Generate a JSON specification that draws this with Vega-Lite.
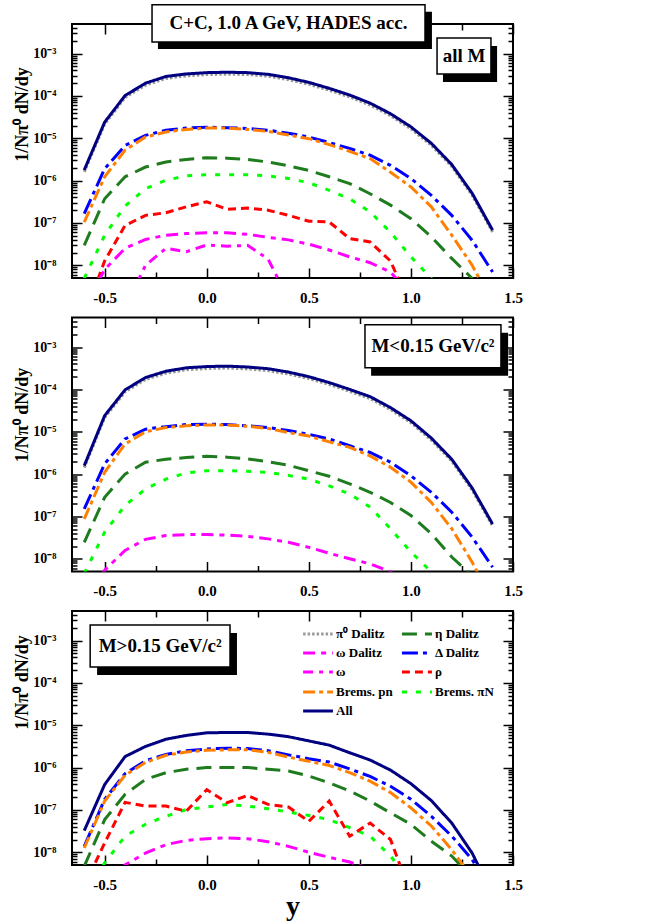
{
"$schema":"https://vega.github.io/schema/vega-lite/v6.json",
"background":"white",
"padding":{"left":12,"top":3,"right":10,"bottom":3},
"spacing":39.5,
"bounds":"flush",
"config":{"font":"Liberation Serif","view":{"stroke":"black","strokeWidth":2},
"axis":{"domain":false,"grid":false,"tickColor":"black","tickWidth":1.5,"labelColor":"black","labelFont":"Liberation Serif","labelFontWeight":"bold","titleFont":"Liberation Serif","titleColor":"black","titleFontWeight":"bold","labelFlush":false,"labelOverlap":false,"labelBound":false}},
"datasets":{
"p1":[
{"s":"π⁰ Dalitz","x":-0.6,"v":1.6e-6},{"s":"π⁰ Dalitz","x":-0.5,"v":2.16e-5},{"s":"π⁰ Dalitz","x":-0.4,"v":9.2e-5},{"s":"π⁰ Dalitz","x":-0.3,"v":1.8e-4},{"s":"π⁰ Dalitz","x":-0.2,"v":2.59e-4},{"s":"π⁰ Dalitz","x":-0.1,"v":2.98e-4},{"s":"π⁰ Dalitz","x":0,"v":3.2e-4},{"s":"π⁰ Dalitz","x":0.1,"v":3.27e-4},{"s":"π⁰ Dalitz","x":0.2,"v":3.2e-4},{"s":"π⁰ Dalitz","x":0.3,"v":2.92e-4},{"s":"π⁰ Dalitz","x":0.4,"v":2.42e-4},{"s":"π⁰ Dalitz","x":0.5,"v":1.88e-4},{"s":"π⁰ Dalitz","x":0.6,"v":1.36e-4},{"s":"π⁰ Dalitz","x":0.7,"v":9.45e-5},{"s":"π⁰ Dalitz","x":0.8,"v":6.08e-5},{"s":"π⁰ Dalitz","x":0.9,"v":3.42e-5},{"s":"π⁰ Dalitz","x":1,"v":1.67e-5},{"s":"π⁰ Dalitz","x":1.1,"v":6.83e-6},{"s":"π⁰ Dalitz","x":1.2,"v":2.16e-6},{"s":"π⁰ Dalitz","x":1.3,"v":4.51e-7},{"s":"π⁰ Dalitz","x":1.4,"v":6.08e-8},
{"s":"η Dalitz","x":-0.6,"v":2.95e-8},{"s":"η Dalitz","x":-0.5,"v":3.72e-7},{"s":"η Dalitz","x":-0.4,"v":1.23e-6},{"s":"η Dalitz","x":-0.3,"v":2.09e-6},{"s":"η Dalitz","x":-0.2,"v":2.75e-6},{"s":"η Dalitz","x":-0.1,"v":3.16e-6},{"s":"η Dalitz","x":0,"v":3.47e-6},{"s":"η Dalitz","x":0.1,"v":3.39e-6},{"s":"η Dalitz","x":0.2,"v":3.16e-6},{"s":"η Dalitz","x":0.3,"v":2.75e-6},{"s":"η Dalitz","x":0.4,"v":2.24e-6},{"s":"η Dalitz","x":0.5,"v":1.74e-6},{"s":"η Dalitz","x":0.6,"v":1.23e-6},{"s":"η Dalitz","x":0.7,"v":8.51e-7},{"s":"η Dalitz","x":0.8,"v":4.9e-7},{"s":"η Dalitz","x":0.9,"v":2.63e-7},{"s":"η Dalitz","x":1,"v":1.26e-7},{"s":"η Dalitz","x":1.1,"v":4.68e-8},{"s":"η Dalitz","x":1.2,"v":1.45e-8},{"s":"η Dalitz","x":1.3,"v":4.9e-9},{"s":"η Dalitz","x":1.4,"v":1e-9},
{"s":"Brems. πN","x":-0.6,"v":4.9e-9},{"s":"Brems. πN","x":-0.5,"v":5.13e-8},{"s":"Brems. πN","x":-0.4,"v":2.51e-7},{"s":"Brems. πN","x":-0.3,"v":6.46e-7},{"s":"Brems. πN","x":-0.2,"v":1.02e-6},{"s":"Brems. πN","x":-0.1,"v":1.29e-6},{"s":"Brems. πN","x":0,"v":1.38e-6},{"s":"Brems. πN","x":0.1,"v":1.38e-6},{"s":"Brems. πN","x":0.2,"v":1.38e-6},{"s":"Brems. πN","x":0.3,"v":1.29e-6},{"s":"Brems. πN","x":0.4,"v":1.12e-6},{"s":"Brems. πN","x":0.5,"v":8.91e-7},{"s":"Brems. πN","x":0.6,"v":5.89e-7},{"s":"Brems. πN","x":0.7,"v":3.72e-7},{"s":"Brems. πN","x":0.8,"v":1.82e-7},{"s":"Brems. πN","x":0.9,"v":6.03e-8},{"s":"Brems. πN","x":1,"v":1.58e-8},{"s":"Brems. πN","x":1.1,"v":4.9e-9},{"s":"Brems. πN","x":1.2,"v":1e-9},
{"s":"ρ","x":-0.6,"v":6.31e-10},{"s":"ρ","x":-0.5,"v":1.26e-8},{"s":"ρ","x":-0.4,"v":8.71e-8},{"s":"ρ","x":-0.3,"v":1.51e-7},{"s":"ρ","x":-0.2,"v":1.74e-7},{"s":"ρ","x":-0.1,"v":2.4e-7},{"s":"ρ","x":0,"v":3.16e-7},{"s":"ρ","x":0.1,"v":2.09e-7},{"s":"ρ","x":0.2,"v":2.24e-7},{"s":"ρ","x":0.3,"v":2e-7},{"s":"ρ","x":0.4,"v":1.51e-7},{"s":"ρ","x":0.5,"v":1.1e-7},{"s":"ρ","x":0.6,"v":1.05e-7},{"s":"ρ","x":0.7,"v":4.27e-8},{"s":"ρ","x":0.8,"v":3.55e-8},{"s":"ρ","x":0.9,"v":1.26e-8},{"s":"ρ","x":1,"v":1e-9},
{"s":"ω","x":-0.4,"v":1e-9},{"s":"ω","x":-0.3,"v":1e-8},{"s":"ω","x":-0.2,"v":2.51e-8},{"s":"ω","x":-0.1,"v":2.09e-8},{"s":"ω","x":0,"v":3.02e-8},{"s":"ω","x":0.1,"v":2.82e-8},{"s":"ω","x":0.2,"v":2.95e-8},{"s":"ω","x":0.3,"v":1.41e-8},{"s":"ω","x":0.4,"v":1.58e-9},
{"s":"ω Dalitz","x":-0.6,"v":1e-9},{"s":"ω Dalitz","x":-0.5,"v":7.94e-9},{"s":"ω Dalitz","x":-0.4,"v":2.51e-8},{"s":"ω Dalitz","x":-0.3,"v":4.07e-8},{"s":"ω Dalitz","x":-0.2,"v":5.13e-8},{"s":"ω Dalitz","x":-0.1,"v":5.62e-8},{"s":"ω Dalitz","x":0,"v":5.89e-8},{"s":"ω Dalitz","x":0.1,"v":5.89e-8},{"s":"ω Dalitz","x":0.2,"v":5.37e-8},{"s":"ω Dalitz","x":0.3,"v":4.57e-8},{"s":"ω Dalitz","x":0.4,"v":3.98e-8},{"s":"ω Dalitz","x":0.5,"v":3.16e-8},{"s":"ω Dalitz","x":0.6,"v":2.29e-8},{"s":"ω Dalitz","x":0.7,"v":1.58e-8},{"s":"ω Dalitz","x":0.8,"v":1.15e-8},{"s":"ω Dalitz","x":0.9,"v":6.92e-9},{"s":"ω Dalitz","x":1,"v":2e-9},
{"s":"Δ Dalitz","x":-0.6,"v":1.66e-7},{"s":"Δ Dalitz","x":-0.5,"v":1.91e-6},{"s":"Δ Dalitz","x":-0.4,"v":6.76e-6},{"s":"Δ Dalitz","x":-0.3,"v":1.17e-5},{"s":"Δ Dalitz","x":-0.2,"v":1.55e-5},{"s":"Δ Dalitz","x":-0.1,"v":1.74e-5},{"s":"Δ Dalitz","x":0,"v":1.82e-5},{"s":"Δ Dalitz","x":0.1,"v":1.78e-5},{"s":"Δ Dalitz","x":0.2,"v":1.7e-5},{"s":"Δ Dalitz","x":0.3,"v":1.55e-5},{"s":"Δ Dalitz","x":0.4,"v":1.32e-5},{"s":"Δ Dalitz","x":0.5,"v":1.07e-5},{"s":"Δ Dalitz","x":0.6,"v":7.94e-6},{"s":"Δ Dalitz","x":0.7,"v":5.75e-6},{"s":"Δ Dalitz","x":0.8,"v":3.98e-6},{"s":"Δ Dalitz","x":0.9,"v":2.29e-6},{"s":"Δ Dalitz","x":1,"v":1.12e-6},{"s":"Δ Dalitz","x":1.1,"v":4.47e-7},{"s":"Δ Dalitz","x":1.2,"v":1.51e-7},{"s":"Δ Dalitz","x":1.3,"v":3.89e-8},{"s":"Δ Dalitz","x":1.4,"v":6.92e-9},
{"s":"Brems. pn","x":-0.6,"v":1.05e-7},{"s":"Brems. pn","x":-0.5,"v":1.23e-6},{"s":"Brems. pn","x":-0.4,"v":5.25e-6},{"s":"Brems. pn","x":-0.3,"v":1.07e-5},{"s":"Brems. pn","x":-0.2,"v":1.41e-5},{"s":"Brems. pn","x":-0.1,"v":1.62e-5},{"s":"Brems. pn","x":0,"v":1.74e-5},{"s":"Brems. pn","x":0.1,"v":1.74e-5},{"s":"Brems. pn","x":0.2,"v":1.62e-5},{"s":"Brems. pn","x":0.3,"v":1.45e-5},{"s":"Brems. pn","x":0.4,"v":1.2e-5},{"s":"Brems. pn","x":0.5,"v":9.77e-6},{"s":"Brems. pn","x":0.6,"v":7.08e-6},{"s":"Brems. pn","x":0.7,"v":4.9e-6},{"s":"Brems. pn","x":0.8,"v":3.31e-6},{"s":"Brems. pn","x":0.9,"v":1.58e-6},{"s":"Brems. pn","x":1,"v":7.08e-7},{"s":"Brems. pn","x":1.1,"v":2.4e-7},{"s":"Brems. pn","x":1.2,"v":5.13e-8},{"s":"Brems. pn","x":1.3,"v":1e-8},{"s":"Brems. pn","x":1.4,"v":1.26e-9},
{"s":"All","x":-0.6,"v":1.78e-6},{"s":"All","x":-0.5,"v":2.4e-5},{"s":"All","x":-0.4,"v":1.02e-4},{"s":"All","x":-0.3,"v":2e-4},{"s":"All","x":-0.2,"v":2.88e-4},{"s":"All","x":-0.1,"v":3.31e-4},{"s":"All","x":0,"v":3.55e-4},{"s":"All","x":0.1,"v":3.63e-4},{"s":"All","x":0.2,"v":3.55e-4},{"s":"All","x":0.3,"v":3.24e-4},{"s":"All","x":0.4,"v":2.69e-4},{"s":"All","x":0.5,"v":2.09e-4},{"s":"All","x":0.6,"v":1.51e-4},{"s":"All","x":0.7,"v":1.05e-4},{"s":"All","x":0.8,"v":6.76e-5},{"s":"All","x":0.9,"v":3.8e-5},{"s":"All","x":1,"v":1.86e-5},{"s":"All","x":1.1,"v":7.59e-6},{"s":"All","x":1.2,"v":2.4e-6},{"s":"All","x":1.3,"v":5.01e-7},{"s":"All","x":1.4,"v":6.76e-8}
],
"p2":[
{"s":"π⁰ Dalitz","x":-0.6,"v":1.42e-6},{"s":"π⁰ Dalitz","x":-0.5,"v":2.16e-5},{"s":"π⁰ Dalitz","x":-0.4,"v":8.79e-5},{"s":"π⁰ Dalitz","x":-0.3,"v":1.72e-4},{"s":"π⁰ Dalitz","x":-0.2,"v":2.42e-4},{"s":"π⁰ Dalitz","x":-0.1,"v":2.92e-4},{"s":"π⁰ Dalitz","x":0,"v":3.12e-4},{"s":"π⁰ Dalitz","x":0.1,"v":3.2e-4},{"s":"π⁰ Dalitz","x":0.2,"v":3.05e-4},{"s":"π⁰ Dalitz","x":0.3,"v":2.78e-4},{"s":"π⁰ Dalitz","x":0.4,"v":2.31e-4},{"s":"π⁰ Dalitz","x":0.5,"v":1.8e-4},{"s":"π⁰ Dalitz","x":0.6,"v":1.31e-4},{"s":"π⁰ Dalitz","x":0.7,"v":9e-5},{"s":"π⁰ Dalitz","x":0.8,"v":6.08e-5},{"s":"π⁰ Dalitz","x":0.9,"v":3.35e-5},{"s":"π⁰ Dalitz","x":1,"v":1.64e-5},{"s":"π⁰ Dalitz","x":1.1,"v":6.37e-6},{"s":"π⁰ Dalitz","x":1.2,"v":2.02e-6},{"s":"π⁰ Dalitz","x":1.3,"v":4.21e-7},{"s":"π⁰ Dalitz","x":1.4,"v":5.95e-8},
{"s":"η Dalitz","x":-0.6,"v":2.45e-8},{"s":"η Dalitz","x":-0.5,"v":2.82e-7},{"s":"η Dalitz","x":-0.4,"v":1e-6},{"s":"η Dalitz","x":-0.3,"v":1.91e-6},{"s":"η Dalitz","x":-0.2,"v":2.24e-6},{"s":"η Dalitz","x":-0.1,"v":2.45e-6},{"s":"η Dalitz","x":0,"v":2.63e-6},{"s":"η Dalitz","x":0.1,"v":2.51e-6},{"s":"η Dalitz","x":0.2,"v":2.29e-6},{"s":"η Dalitz","x":0.3,"v":1.95e-6},{"s":"η Dalitz","x":0.4,"v":1.62e-6},{"s":"η Dalitz","x":0.5,"v":1.2e-6},{"s":"η Dalitz","x":0.6,"v":8.91e-7},{"s":"η Dalitz","x":0.7,"v":5.89e-7},{"s":"η Dalitz","x":0.8,"v":3.72e-7},{"s":"η Dalitz","x":0.9,"v":2.14e-7},{"s":"η Dalitz","x":1,"v":1.05e-7},{"s":"η Dalitz","x":1.1,"v":3.89e-8},{"s":"η Dalitz","x":1.2,"v":1.1e-8},{"s":"η Dalitz","x":1.3,"v":3.98e-9},{"s":"η Dalitz","x":1.4,"v":7.94e-10},
{"s":"Brems. πN","x":-0.6,"v":4.47e-9},{"s":"Brems. πN","x":-0.5,"v":4.27e-8},{"s":"Brems. πN","x":-0.4,"v":1.82e-7},{"s":"Brems. πN","x":-0.3,"v":4.47e-7},{"s":"Brems. πN","x":-0.2,"v":7.59e-7},{"s":"Brems. πN","x":-0.1,"v":1.07e-6},{"s":"Brems. πN","x":0,"v":1.2e-6},{"s":"Brems. πN","x":0.1,"v":1.2e-6},{"s":"Brems. πN","x":0.2,"v":1.17e-6},{"s":"Brems. πN","x":0.3,"v":1.1e-6},{"s":"Brems. πN","x":0.4,"v":9.33e-7},{"s":"Brems. πN","x":0.5,"v":7.59e-7},{"s":"Brems. πN","x":0.6,"v":5.25e-7},{"s":"Brems. πN","x":0.7,"v":3.39e-7},{"s":"Brems. πN","x":0.8,"v":1.66e-7},{"s":"Brems. πN","x":0.9,"v":5.13e-8},{"s":"Brems. πN","x":1,"v":1.45e-8},{"s":"Brems. πN","x":1.1,"v":4.9e-9},{"s":"Brems. πN","x":1.2,"v":1e-9},
{"s":"ω Dalitz","x":-0.6,"v":1e-9},{"s":"ω Dalitz","x":-0.5,"v":5.37e-9},{"s":"ω Dalitz","x":-0.4,"v":1.58e-8},{"s":"ω Dalitz","x":-0.3,"v":2.88e-8},{"s":"ω Dalitz","x":-0.2,"v":3.55e-8},{"s":"ω Dalitz","x":-0.1,"v":3.72e-8},{"s":"ω Dalitz","x":0,"v":3.72e-8},{"s":"ω Dalitz","x":0.1,"v":3.63e-8},{"s":"ω Dalitz","x":0.2,"v":3.39e-8},{"s":"ω Dalitz","x":0.3,"v":2.95e-8},{"s":"ω Dalitz","x":0.4,"v":2.45e-8},{"s":"ω Dalitz","x":0.5,"v":1.86e-8},{"s":"ω Dalitz","x":0.6,"v":1.35e-8},{"s":"ω Dalitz","x":0.7,"v":1e-8},{"s":"ω Dalitz","x":0.8,"v":7.59e-9},{"s":"ω Dalitz","x":0.9,"v":4.9e-9},{"s":"ω Dalitz","x":1,"v":1.58e-9},
{"s":"Δ Dalitz","x":-0.6,"v":1.51e-7},{"s":"Δ Dalitz","x":-0.5,"v":1.74e-6},{"s":"Δ Dalitz","x":-0.4,"v":6.76e-6},{"s":"Δ Dalitz","x":-0.3,"v":1.15e-5},{"s":"Δ Dalitz","x":-0.2,"v":1.32e-5},{"s":"Δ Dalitz","x":-0.1,"v":1.48e-5},{"s":"Δ Dalitz","x":0,"v":1.51e-5},{"s":"Δ Dalitz","x":0.1,"v":1.48e-5},{"s":"Δ Dalitz","x":0.2,"v":1.38e-5},{"s":"Δ Dalitz","x":0.3,"v":1.26e-5},{"s":"Δ Dalitz","x":0.4,"v":1.07e-5},{"s":"Δ Dalitz","x":0.5,"v":8.71e-6},{"s":"Δ Dalitz","x":0.6,"v":6.76e-6},{"s":"Δ Dalitz","x":0.7,"v":4.68e-6},{"s":"Δ Dalitz","x":0.8,"v":3.24e-6},{"s":"Δ Dalitz","x":0.9,"v":1.91e-6},{"s":"Δ Dalitz","x":1,"v":9.12e-7},{"s":"Δ Dalitz","x":1.1,"v":3.72e-7},{"s":"Δ Dalitz","x":1.2,"v":1.26e-7},{"s":"Δ Dalitz","x":1.3,"v":3.24e-8},{"s":"Δ Dalitz","x":1.4,"v":6.31e-9},
{"s":"Brems. pn","x":-0.6,"v":8.71e-8},{"s":"Brems. pn","x":-0.5,"v":1.1e-6},{"s":"Brems. pn","x":-0.4,"v":5.13e-6},{"s":"Brems. pn","x":-0.3,"v":1e-5},{"s":"Brems. pn","x":-0.2,"v":1.26e-5},{"s":"Brems. pn","x":-0.1,"v":1.38e-5},{"s":"Brems. pn","x":0,"v":1.45e-5},{"s":"Brems. pn","x":0.1,"v":1.45e-5},{"s":"Brems. pn","x":0.2,"v":1.35e-5},{"s":"Brems. pn","x":0.3,"v":1.2e-5},{"s":"Brems. pn","x":0.4,"v":9.55e-6},{"s":"Brems. pn","x":0.5,"v":7.94e-6},{"s":"Brems. pn","x":0.6,"v":5.75e-6},{"s":"Brems. pn","x":0.7,"v":4.27e-6},{"s":"Brems. pn","x":0.8,"v":2.69e-6},{"s":"Brems. pn","x":0.9,"v":1.45e-6},{"s":"Brems. pn","x":1,"v":6.46e-7},{"s":"Brems. pn","x":1.1,"v":2.14e-7},{"s":"Brems. pn","x":1.2,"v":5.13e-8},{"s":"Brems. pn","x":1.3,"v":8.32e-9},{"s":"Brems. pn","x":1.4,"v":1e-9},
{"s":"All","x":-0.6,"v":1.58e-6},{"s":"All","x":-0.5,"v":2.4e-5},{"s":"All","x":-0.4,"v":9.77e-5},{"s":"All","x":-0.3,"v":1.91e-4},{"s":"All","x":-0.2,"v":2.69e-4},{"s":"All","x":-0.1,"v":3.24e-4},{"s":"All","x":0,"v":3.47e-4},{"s":"All","x":0.1,"v":3.55e-4},{"s":"All","x":0.2,"v":3.39e-4},{"s":"All","x":0.3,"v":3.09e-4},{"s":"All","x":0.4,"v":2.57e-4},{"s":"All","x":0.5,"v":2e-4},{"s":"All","x":0.6,"v":1.45e-4},{"s":"All","x":0.7,"v":1e-4},{"s":"All","x":0.8,"v":6.76e-5},{"s":"All","x":0.9,"v":3.72e-5},{"s":"All","x":1,"v":1.82e-5},{"s":"All","x":1.1,"v":7.08e-6},{"s":"All","x":1.2,"v":2.24e-6},{"s":"All","x":1.3,"v":4.68e-7},{"s":"All","x":1.4,"v":6.61e-8}
],
"p3":[
{"s":"η Dalitz","x":-0.6,"v":4.68e-9},{"s":"η Dalitz","x":-0.5,"v":5.89e-8},{"s":"η Dalitz","x":-0.4,"v":2.34e-7},{"s":"η Dalitz","x":-0.3,"v":5.25e-7},{"s":"η Dalitz","x":-0.2,"v":7.59e-7},{"s":"η Dalitz","x":-0.1,"v":9.12e-7},{"s":"η Dalitz","x":0,"v":1e-6},{"s":"η Dalitz","x":0.1,"v":1e-6},{"s":"η Dalitz","x":0.2,"v":1e-6},{"s":"η Dalitz","x":0.3,"v":9.12e-7},{"s":"η Dalitz","x":0.4,"v":8.32e-7},{"s":"η Dalitz","x":0.5,"v":6.31e-7},{"s":"η Dalitz","x":0.6,"v":4.37e-7},{"s":"η Dalitz","x":0.7,"v":2.82e-7},{"s":"η Dalitz","x":0.8,"v":1.62e-7},{"s":"η Dalitz","x":0.9,"v":8.51e-8},{"s":"η Dalitz","x":1,"v":4.57e-8},{"s":"η Dalitz","x":1.1,"v":1.82e-8},{"s":"η Dalitz","x":1.2,"v":8.13e-9},{"s":"η Dalitz","x":1.3,"v":2.51e-9},{"s":"η Dalitz","x":1.4,"v":5.01e-10},
{"s":"Brems. πN","x":-0.6,"v":6.31e-10},{"s":"Brems. πN","x":-0.5,"v":5.62e-9},{"s":"Brems. πN","x":-0.4,"v":2.4e-8},{"s":"Brems. πN","x":-0.3,"v":4.57e-8},{"s":"Brems. πN","x":-0.2,"v":7.08e-8},{"s":"Brems. πN","x":-0.1,"v":1.02e-7},{"s":"Brems. πN","x":0,"v":1.17e-7},{"s":"Brems. πN","x":0.1,"v":1.35e-7},{"s":"Brems. πN","x":0.2,"v":1.23e-7},{"s":"Brems. πN","x":0.3,"v":1.07e-7},{"s":"Brems. πN","x":0.4,"v":8.91e-8},{"s":"Brems. πN","x":0.5,"v":7.41e-8},{"s":"Brems. πN","x":0.6,"v":5.89e-8},{"s":"Brems. πN","x":0.7,"v":3.8e-8},{"s":"Brems. πN","x":0.8,"v":2.4e-8},{"s":"Brems. πN","x":0.9,"v":8.13e-9},{"s":"Brems. πN","x":1,"v":2e-9},
{"s":"ρ","x":-0.6,"v":1.58e-9},{"s":"ρ","x":-0.5,"v":1.66e-8},{"s":"ρ","x":-0.4,"v":1.51e-7},{"s":"ρ","x":-0.3,"v":1.23e-7},{"s":"ρ","x":-0.2,"v":1.23e-7},{"s":"ρ","x":-0.1,"v":9.33e-8},{"s":"ρ","x":0,"v":3.02e-7},{"s":"ρ","x":0.1,"v":1.48e-7},{"s":"ρ","x":0.2,"v":2.19e-7},{"s":"ρ","x":0.3,"v":1.35e-7},{"s":"ρ","x":0.4,"v":1.17e-7},{"s":"ρ","x":0.5,"v":5.37e-8},{"s":"ρ","x":0.6,"v":1.62e-7},{"s":"ρ","x":0.7,"v":2.4e-8},{"s":"ρ","x":0.8,"v":4.9e-8},{"s":"ρ","x":0.9,"v":2e-8},{"s":"ρ","x":1,"v":1e-9},
{"s":"ω Dalitz","x":-0.6,"v":3.16e-10},{"s":"ω Dalitz","x":-0.5,"v":1.26e-9},{"s":"ω Dalitz","x":-0.4,"v":5.01e-9},{"s":"ω Dalitz","x":-0.3,"v":9.55e-9},{"s":"ω Dalitz","x":-0.2,"v":1.51e-8},{"s":"ω Dalitz","x":-0.1,"v":1.91e-8},{"s":"ω Dalitz","x":0,"v":2.09e-8},{"s":"ω Dalitz","x":0.1,"v":2.19e-8},{"s":"ω Dalitz","x":0.2,"v":2.09e-8},{"s":"ω Dalitz","x":0.3,"v":1.78e-8},{"s":"ω Dalitz","x":0.4,"v":1.38e-8},{"s":"ω Dalitz","x":0.5,"v":1e-8},{"s":"ω Dalitz","x":0.6,"v":7.59e-9},{"s":"ω Dalitz","x":0.7,"v":5.89e-9},{"s":"ω Dalitz","x":0.8,"v":3.98e-9},{"s":"ω Dalitz","x":0.9,"v":2e-9},
{"s":"Δ Dalitz","x":-0.6,"v":1.38e-8},{"s":"Δ Dalitz","x":-0.5,"v":1.78e-7},{"s":"Δ Dalitz","x":-0.4,"v":7.24e-7},{"s":"Δ Dalitz","x":-0.3,"v":1.45e-6},{"s":"Δ Dalitz","x":-0.2,"v":2.04e-6},{"s":"Δ Dalitz","x":-0.1,"v":2.51e-6},{"s":"Δ Dalitz","x":0,"v":2.75e-6},{"s":"Δ Dalitz","x":0.1,"v":2.88e-6},{"s":"Δ Dalitz","x":0.2,"v":2.82e-6},{"s":"Δ Dalitz","x":0.3,"v":2.51e-6},{"s":"Δ Dalitz","x":0.4,"v":2e-6},{"s":"Δ Dalitz","x":0.5,"v":1.62e-6},{"s":"Δ Dalitz","x":0.6,"v":1.35e-6},{"s":"Δ Dalitz","x":0.7,"v":9.33e-7},{"s":"Δ Dalitz","x":0.8,"v":6.17e-7},{"s":"Δ Dalitz","x":0.9,"v":3.63e-7},{"s":"Δ Dalitz","x":1,"v":1.78e-7},{"s":"Δ Dalitz","x":1.1,"v":7.08e-8},{"s":"Δ Dalitz","x":1.2,"v":2.4e-8},{"s":"Δ Dalitz","x":1.3,"v":6.76e-9},{"s":"Δ Dalitz","x":1.4,"v":1e-9},
{"s":"Brems. pn","x":-0.6,"v":1.26e-8},{"s":"Brems. pn","x":-0.5,"v":1.62e-7},{"s":"Brems. pn","x":-0.4,"v":6.61e-7},{"s":"Brems. pn","x":-0.3,"v":1.32e-6},{"s":"Brems. pn","x":-0.2,"v":1.95e-6},{"s":"Brems. pn","x":-0.1,"v":2.34e-6},{"s":"Brems. pn","x":0,"v":2.57e-6},{"s":"Brems. pn","x":0.1,"v":2.63e-6},{"s":"Brems. pn","x":0.2,"v":2.63e-6},{"s":"Brems. pn","x":0.3,"v":2.29e-6},{"s":"Brems. pn","x":0.4,"v":1.78e-6},{"s":"Brems. pn","x":0.5,"v":1.41e-6},{"s":"Brems. pn","x":0.6,"v":1.12e-6},{"s":"Brems. pn","x":0.7,"v":7.59e-7},{"s":"Brems. pn","x":0.8,"v":4.79e-7},{"s":"Brems. pn","x":0.9,"v":2.57e-7},{"s":"Brems. pn","x":1,"v":1.12e-7},{"s":"Brems. pn","x":1.1,"v":4.17e-8},{"s":"Brems. pn","x":1.2,"v":1.15e-8},{"s":"Brems. pn","x":1.3,"v":2.51e-9},{"s":"Brems. pn","x":1.4,"v":3.16e-10},
{"s":"All","x":-0.6,"v":3.24e-8},{"s":"All","x":-0.5,"v":3.98e-7},{"s":"All","x":-0.4,"v":1.82e-6},{"s":"All","x":-0.3,"v":3.16e-6},{"s":"All","x":-0.2,"v":4.68e-6},{"s":"All","x":-0.1,"v":5.75e-6},{"s":"All","x":0,"v":6.61e-6},{"s":"All","x":0.1,"v":6.76e-6},{"s":"All","x":0.2,"v":6.76e-6},{"s":"All","x":0.3,"v":6.17e-6},{"s":"All","x":0.4,"v":5.37e-6},{"s":"All","x":0.5,"v":4.27e-6},{"s":"All","x":0.6,"v":3.39e-6},{"s":"All","x":0.7,"v":2.24e-6},{"s":"All","x":0.8,"v":1.51e-6},{"s":"All","x":0.9,"v":8.71e-7},{"s":"All","x":1,"v":4.17e-7},{"s":"All","x":1.1,"v":1.66e-7},{"s":"All","x":1.2,"v":4.9e-8},{"s":"All","x":1.3,"v":9.55e-9},{"s":"All","x":1.4,"v":1e-9}
],
"lg":[
{"s":"π⁰ Dalitz","x":0.472,"v":1.43e-3},{"s":"π⁰ Dalitz","x":0.618,"v":1.43e-3},
{"s":"η Dalitz","x":0.956,"v":1.43e-3},{"s":"η Dalitz","x":1.103,"v":1.43e-3},
{"s":"ω Dalitz","x":0.472,"v":5.09e-4},{"s":"ω Dalitz","x":0.618,"v":5.09e-4},
{"s":"Δ Dalitz","x":0.956,"v":5.09e-4},{"s":"Δ Dalitz","x":1.103,"v":5.09e-4},
{"s":"ω","x":0.472,"v":1.81e-4},{"s":"ω","x":0.618,"v":1.81e-4},
{"s":"ρ","x":0.956,"v":1.81e-4},{"s":"ρ","x":1.103,"v":1.81e-4},
{"s":"Brems. pn","x":0.472,"v":6.1e-5},{"s":"Brems. pn","x":0.618,"v":6.1e-5},
{"s":"Brems. πN","x":0.956,"v":6.1e-5},{"s":"Brems. πN","x":1.103,"v":6.1e-5},
{"s":"All","x":0.472,"v":2.17e-5},{"s":"All","x":0.618,"v":2.17e-5}
],
"lt":[
{"x":0.633,"y":1.43e-3,"t":"π⁰ Dalitz"},{"x":1.118,"y":1.43e-3,"t":"η Dalitz"},
{"x":0.633,"y":5.09e-4,"t":"ω Dalitz"},{"x":1.118,"y":5.09e-4,"t":"Δ Dalitz"},
{"x":0.633,"y":1.81e-4,"t":"ω"},{"x":1.118,"y":1.81e-4,"t":"ρ"},
{"x":0.633,"y":6.1e-5,"t":"Brems. pn"},{"x":1.118,"y":6.1e-5,"t":"Brems. πN"},
{"x":0.633,"y":2.17e-5,"t":"All"}
],
"bx":[
{"p":1,"k":"shadow","x":-0.239,"x2":1.103,"y":1.29e-3,"y2":9.68e-3},
{"p":1,"k":"box","x":-0.268,"x2":1.069,"y":1.89e-3,"y2":1.42e-2},
{"p":1,"k":"shadow","x":1.157,"x2":1.422,"y":2.14e-4,"y2":1.52e-3},
{"p":1,"k":"box","x":1.128,"x2":1.392,"y":3.31e-4,"y2":2.35e-3},
{"p":2,"k":"shadow","x":0.805,"x2":1.476,"y":2.1e-4,"y2":2.17e-3},
{"p":2,"k":"box","x":0.775,"x2":1.441,"y":3.25e-4,"y2":3.36e-3},
{"p":3,"k":"shadow","x":-0.537,"x2":0.148,"y":1.54e-4,"y2":1.51e-3},
{"p":3,"k":"box","x":-0.571,"x2":0.114,"y":2.38e-4,"y2":2.34e-3}
],
"tx":[
{"p":1,"x":0.4,"y":5.18e-3,"t":"C+C, 1.0 A GeV, HADES acc."},
{"p":1,"x":1.26,"y":8.82e-4,"t":"all M"},
{"p":2,"x":1.108,"y":1.045e-3,"t":"M<0.15 GeV/c²"},
{"p":3,"x":-0.228,"y":7.46e-4,"t":"M>0.15 GeV/c²"}
]
},
"vconcat":[
{"width":441,"height":254,"resolve":{"axis":{"x":"independent","y":"independent"}},
"layer":[
{"data":{"name":"p1"},"mark":{"type":"line","clip":true,"strokeWidth":3},
"encoding":{
"x":{"field":"x","type":"quantitative","scale":{"domain":[-0.66,1.5],"nice":false,"zero":false},"axis":{"orient":"bottom","values":[-0.5,0,0.5,1,1.5],"tickSize":-10,"labelPadding":22,"labelFontSize":15,"labelExpr":"datum.value < 0 ? '-' + format(-datum.value, '.1f') : format(datum.value, '.1f')","title":null}},
"y":{"field":"v","type":"quantitative","scale":{"type":"log","domain":[5e-9,5e-3],"nice":false},"axis":{"orient":"left","values":[1e-8,1e-7,1e-6,1e-5,1e-4,1e-3],"tickSize":-10,"labelPadding":26,"labelFontSize":14,"labelExpr":"'10⁻' + substring('⁰¹²³⁴⁵⁶⁷⁸⁹', round(-log(datum.value)/LN10), round(-log(datum.value)/LN10) + 1)","title":"1/Nπ⁰ dN/dy","titleFontSize":18,"titleAngle":270,"titleX":-50,"titleY":90,"titleAlign":"center","titleBaseline":"middle"}},
"color":{"field":"s","type":"nominal","scale":{"domain":["π⁰ Dalitz","η Dalitz","ω Dalitz","Δ Dalitz","ω","ρ","Brems. pn","Brems. πN","All"],"range":["#9a9a9a","#1e7b1e","#ff00ff","#0000ff","#ff00ff","#ff0000","#ff8000","#00ff00","#000080"]},"legend":null},
"strokeDash":{"field":"s","type":"nominal","scale":{"domain":["π⁰ Dalitz","η Dalitz","ω Dalitz","Δ Dalitz","ω","ρ","Brems. pn","Brems. πN","All"],"range":[[2.5,2],[15,8],[12,6,5,6],[16,5,4,5],[10,6,4,6],[8,5],[12,4,4,4],[5,9],[1,0]]},"legend":null}
}},
{"data":{"name":"bx"},"transform":[{"filter":"datum.p == 1 && datum.k == 'shadow'"}],"mark":{"type":"rect","fill":"black"},
"encoding":{"x":{"field":"x","type":"quantitative","scale":{"domain":[-0.66,1.5],"nice":false,"zero":false},"axis":{"orient":"top","values":[-0.5,0,0.5,1,1.5],"tickSize":-10,"labels":false,"title":null}},"x2":{"field":"x2"},
"y":{"field":"y","type":"quantitative","scale":{"type":"log","domain":[5e-9,5e-3],"nice":false},"axis":{"orient":"right","values":[1e-8,1e-7,1e-6,1e-5,1e-4,1e-3],"tickSize":-10,"labels":false,"title":null}},"y2":{"field":"y2"}}},
{"data":{"name":"bx"},"transform":[{"filter":"datum.p == 1 && datum.k == 'box'"}],"mark":{"type":"rect","fill":"white","stroke":"black","strokeWidth":1.5},
"encoding":{"x":{"field":"x","type":"quantitative","scale":{"domain":[-0.66,1.5],"nice":false,"zero":false},"axis":{"orient":"bottom","values":[-0.25,0.25,0.75,1.25],"tickSize":-6,"labels":false,"title":null}},"x2":{"field":"x2"},
"y":{"field":"y","type":"quantitative","scale":{"type":"log","domain":[5e-9,5e-3],"nice":false},"axis":{"orient":"left","values":[6e-9,7e-9,8e-9,9e-9,2e-8,3e-8,4e-8,5e-8,6e-8,7e-8,8e-8,9e-8,2e-7,3e-7,4e-7,5e-7,6e-7,7e-7,8e-7,9e-7,2e-6,3e-6,4e-6,5e-6,6e-6,7e-6,8e-6,9e-6,2e-5,3e-5,4e-5,5e-5,6e-5,7e-5,8e-5,9e-5,2e-4,3e-4,4e-4,5e-4,6e-4,7e-4,8e-4,9e-4,2e-3,3e-3,4e-3],"tickSize":-5,"labels":false,"title":null}},"y2":{"field":"y2"}}},
{"data":{"name":"tx"},"transform":[{"filter":"datum.p == 1"}],"mark":{"type":"text","fontSize":19,"fontWeight":"bold","font":"Liberation Serif","align":"center","baseline":"middle"},
"encoding":{"x":{"field":"x","type":"quantitative","scale":{"domain":[-0.66,1.5],"nice":false,"zero":false},"axis":{"orient":"top","values":[-0.25,0.25,0.75,1.25],"tickSize":-6,"labels":false,"title":null}},
"y":{"field":"y","type":"quantitative","scale":{"type":"log","domain":[5e-9,5e-3],"nice":false},"axis":{"orient":"right","values":[6e-9,7e-9,8e-9,9e-9,2e-8,3e-8,4e-8,5e-8,6e-8,7e-8,8e-8,9e-8,2e-7,3e-7,4e-7,5e-7,6e-7,7e-7,8e-7,9e-7,2e-6,3e-6,4e-6,5e-6,6e-6,7e-6,8e-6,9e-6,2e-5,3e-5,4e-5,5e-5,6e-5,7e-5,8e-5,9e-5,2e-4,3e-4,4e-4,5e-4,6e-4,7e-4,8e-4,9e-4,2e-3,3e-3,4e-3],"tickSize":-5,"labels":false,"title":null}},"text":{"field":"t"}}}
]},
{"width":441,"height":254,"resolve":{"axis":{"x":"independent","y":"independent"}},
"layer":[
{"data":{"name":"p2"},"mark":{"type":"line","clip":true,"strokeWidth":3},
"encoding":{
"x":{"field":"x","type":"quantitative","scale":{"domain":[-0.66,1.5],"nice":false,"zero":false},"axis":{"orient":"bottom","values":[-0.5,0,0.5,1,1.5],"tickSize":-10,"labelPadding":22,"labelFontSize":15,"labelExpr":"datum.value < 0 ? '-' + format(-datum.value, '.1f') : format(datum.value, '.1f')","title":null}},
"y":{"field":"v","type":"quantitative","scale":{"type":"log","domain":[5e-9,5e-3],"nice":false},"axis":{"orient":"left","values":[1e-8,1e-7,1e-6,1e-5,1e-4,1e-3],"tickSize":-10,"labelPadding":26,"labelFontSize":14,"labelExpr":"'10⁻' + substring('⁰¹²³⁴⁵⁶⁷⁸⁹', round(-log(datum.value)/LN10), round(-log(datum.value)/LN10) + 1)","title":"1/Nπ⁰ dN/dy","titleFontSize":18,"titleAngle":270,"titleX":-50,"titleY":97,"titleAlign":"center","titleBaseline":"middle"}},
"color":{"field":"s","type":"nominal","scale":{"domain":["π⁰ Dalitz","η Dalitz","ω Dalitz","Δ Dalitz","ω","ρ","Brems. pn","Brems. πN","All"],"range":["#9a9a9a","#1e7b1e","#ff00ff","#0000ff","#ff00ff","#ff0000","#ff8000","#00ff00","#000080"]},"legend":null},
"strokeDash":{"field":"s","type":"nominal","scale":{"domain":["π⁰ Dalitz","η Dalitz","ω Dalitz","Δ Dalitz","ω","ρ","Brems. pn","Brems. πN","All"],"range":[[2.5,2],[15,8],[12,6,5,6],[16,5,4,5],[10,6,4,6],[8,5],[12,4,4,4],[5,9],[1,0]]},"legend":null}
}},
{"data":{"name":"bx"},"transform":[{"filter":"datum.p == 2 && datum.k == 'shadow'"}],"mark":{"type":"rect","fill":"black"},
"encoding":{"x":{"field":"x","type":"quantitative","scale":{"domain":[-0.66,1.5],"nice":false,"zero":false},"axis":{"orient":"top","values":[-0.5,0,0.5,1,1.5],"tickSize":-10,"labels":false,"title":null}},"x2":{"field":"x2"},
"y":{"field":"y","type":"quantitative","scale":{"type":"log","domain":[5e-9,5e-3],"nice":false},"axis":{"orient":"right","values":[1e-8,1e-7,1e-6,1e-5,1e-4,1e-3],"tickSize":-10,"labels":false,"title":null}},"y2":{"field":"y2"}}},
{"data":{"name":"bx"},"transform":[{"filter":"datum.p == 2 && datum.k == 'box'"}],"mark":{"type":"rect","fill":"white","stroke":"black","strokeWidth":1.5},
"encoding":{"x":{"field":"x","type":"quantitative","scale":{"domain":[-0.66,1.5],"nice":false,"zero":false},"axis":{"orient":"bottom","values":[-0.25,0.25,0.75,1.25],"tickSize":-6,"labels":false,"title":null}},"x2":{"field":"x2"},
"y":{"field":"y","type":"quantitative","scale":{"type":"log","domain":[5e-9,5e-3],"nice":false},"axis":{"orient":"left","values":[6e-9,7e-9,8e-9,9e-9,2e-8,3e-8,4e-8,5e-8,6e-8,7e-8,8e-8,9e-8,2e-7,3e-7,4e-7,5e-7,6e-7,7e-7,8e-7,9e-7,2e-6,3e-6,4e-6,5e-6,6e-6,7e-6,8e-6,9e-6,2e-5,3e-5,4e-5,5e-5,6e-5,7e-5,8e-5,9e-5,2e-4,3e-4,4e-4,5e-4,6e-4,7e-4,8e-4,9e-4,2e-3,3e-3,4e-3],"tickSize":-5,"labels":false,"title":null}},"y2":{"field":"y2"}}},
{"data":{"name":"tx"},"transform":[{"filter":"datum.p == 2"}],"mark":{"type":"text","fontSize":19,"fontWeight":"bold","font":"Liberation Serif","align":"center","baseline":"middle"},
"encoding":{"x":{"field":"x","type":"quantitative","scale":{"domain":[-0.66,1.5],"nice":false,"zero":false},"axis":{"orient":"top","values":[-0.25,0.25,0.75,1.25],"tickSize":-6,"labels":false,"title":null}},
"y":{"field":"y","type":"quantitative","scale":{"type":"log","domain":[5e-9,5e-3],"nice":false},"axis":{"orient":"right","values":[6e-9,7e-9,8e-9,9e-9,2e-8,3e-8,4e-8,5e-8,6e-8,7e-8,8e-8,9e-8,2e-7,3e-7,4e-7,5e-7,6e-7,7e-7,8e-7,9e-7,2e-6,3e-6,4e-6,5e-6,6e-6,7e-6,8e-6,9e-6,2e-5,3e-5,4e-5,5e-5,6e-5,7e-5,8e-5,9e-5,2e-4,3e-4,4e-4,5e-4,6e-4,7e-4,8e-4,9e-4,2e-3,3e-3,4e-3],"tickSize":-5,"labels":false,"title":null}},"text":{"field":"t"}}}
]},
{"width":441,"height":254,"resolve":{"axis":{"x":"independent","y":"independent"}},
"layer":[
{"data":{"name":"p3"},"mark":{"type":"line","clip":true,"strokeWidth":3},
"encoding":{
"x":{"field":"x","type":"quantitative","scale":{"domain":[-0.66,1.5],"nice":false,"zero":false},"axis":{"orient":"bottom","values":[-0.5,0,0.5,1,1.5],"tickSize":-10,"labelPadding":22,"labelFontSize":15,"labelExpr":"datum.value < 0 ? '-' + format(-datum.value, '.1f') : format(datum.value, '.1f')","title":"y","titleFontSize":28,"titlePadding":0}},
"y":{"field":"v","type":"quantitative","scale":{"type":"log","domain":[5e-9,5e-3],"nice":false},"axis":{"orient":"left","values":[1e-8,1e-7,1e-6,1e-5,1e-4,1e-3],"tickSize":-10,"labelPadding":26,"labelFontSize":14,"labelExpr":"'10⁻' + substring('⁰¹²³⁴⁵⁶⁷⁸⁹', round(-log(datum.value)/LN10), round(-log(datum.value)/LN10) + 1)","title":"1/Nπ⁰ dN/dy","titleFontSize":18,"titleAngle":270,"titleX":-50,"titleY":71,"titleAlign":"center","titleBaseline":"middle"}},
"color":{"field":"s","type":"nominal","scale":{"domain":["π⁰ Dalitz","η Dalitz","ω Dalitz","Δ Dalitz","ω","ρ","Brems. pn","Brems. πN","All"],"range":["#9a9a9a","#1e7b1e","#ff00ff","#0000ff","#ff00ff","#ff0000","#ff8000","#00ff00","#000080"]},"legend":null},
"strokeDash":{"field":"s","type":"nominal","scale":{"domain":["π⁰ Dalitz","η Dalitz","ω Dalitz","Δ Dalitz","ω","ρ","Brems. pn","Brems. πN","All"],"range":[[2.5,2],[15,8],[12,6,5,6],[16,5,4,5],[10,6,4,6],[8,5],[12,4,4,4],[5,9],[1,0]]},"legend":null}
}},
{"data":{"name":"lg"},"mark":{"type":"line","clip":false,"strokeWidth":3},
"encoding":{
"x":{"field":"x","type":"quantitative","scale":{"domain":[-0.66,1.5],"nice":false,"zero":false},"axis":null},
"y":{"field":"v","type":"quantitative","scale":{"type":"log","domain":[5e-9,5e-3],"nice":false},"axis":null},
"color":{"field":"s","type":"nominal","scale":{"domain":["π⁰ Dalitz","η Dalitz","ω Dalitz","Δ Dalitz","ω","ρ","Brems. pn","Brems. πN","All"],"range":["#9a9a9a","#1e7b1e","#ff00ff","#0000ff","#ff00ff","#ff0000","#ff8000","#00ff00","#000080"]},"legend":null},
"strokeDash":{"field":"s","type":"nominal","scale":{"domain":["π⁰ Dalitz","η Dalitz","ω Dalitz","Δ Dalitz","ω","ρ","Brems. pn","Brems. πN","All"],"range":[[2.5,2],[15,8],[12,6,5,6],[16,5,4,5],[10,6,4,6],[8,5],[12,4,4,4],[5,9],[1,0]]},"legend":null}
}},
{"data":{"name":"lt"},"mark":{"type":"text","fontSize":13,"fontWeight":"bold","font":"Liberation Serif","align":"left","baseline":"middle"},
"encoding":{
"x":{"field":"x","type":"quantitative","scale":{"domain":[-0.66,1.5],"nice":false,"zero":false},"axis":null},
"y":{"field":"y","type":"quantitative","scale":{"type":"log","domain":[5e-9,5e-3],"nice":false},"axis":null},
"text":{"field":"t"}}},
{"data":{"name":"bx"},"transform":[{"filter":"datum.p == 3 && datum.k == 'shadow'"}],"mark":{"type":"rect","fill":"black"},
"encoding":{"x":{"field":"x","type":"quantitative","scale":{"domain":[-0.66,1.5],"nice":false,"zero":false},"axis":{"orient":"top","values":[-0.5,0,0.5,1,1.5],"tickSize":-10,"labels":false,"title":null}},"x2":{"field":"x2"},
"y":{"field":"y","type":"quantitative","scale":{"type":"log","domain":[5e-9,5e-3],"nice":false},"axis":{"orient":"right","values":[1e-8,1e-7,1e-6,1e-5,1e-4,1e-3],"tickSize":-10,"labels":false,"title":null}},"y2":{"field":"y2"}}},
{"data":{"name":"bx"},"transform":[{"filter":"datum.p == 3 && datum.k == 'box'"}],"mark":{"type":"rect","fill":"white","stroke":"black","strokeWidth":1.5},
"encoding":{"x":{"field":"x","type":"quantitative","scale":{"domain":[-0.66,1.5],"nice":false,"zero":false},"axis":{"orient":"bottom","values":[-0.25,0.25,0.75,1.25],"tickSize":-6,"labels":false,"title":null}},"x2":{"field":"x2"},
"y":{"field":"y","type":"quantitative","scale":{"type":"log","domain":[5e-9,5e-3],"nice":false},"axis":{"orient":"left","values":[6e-9,7e-9,8e-9,9e-9,2e-8,3e-8,4e-8,5e-8,6e-8,7e-8,8e-8,9e-8,2e-7,3e-7,4e-7,5e-7,6e-7,7e-7,8e-7,9e-7,2e-6,3e-6,4e-6,5e-6,6e-6,7e-6,8e-6,9e-6,2e-5,3e-5,4e-5,5e-5,6e-5,7e-5,8e-5,9e-5,2e-4,3e-4,4e-4,5e-4,6e-4,7e-4,8e-4,9e-4,2e-3,3e-3,4e-3],"tickSize":-5,"labels":false,"title":null}},"y2":{"field":"y2"}}},
{"data":{"name":"tx"},"transform":[{"filter":"datum.p == 3"}],"mark":{"type":"text","fontSize":19,"fontWeight":"bold","font":"Liberation Serif","align":"center","baseline":"middle"},
"encoding":{"x":{"field":"x","type":"quantitative","scale":{"domain":[-0.66,1.5],"nice":false,"zero":false},"axis":{"orient":"top","values":[-0.25,0.25,0.75,1.25],"tickSize":-6,"labels":false,"title":null}},
"y":{"field":"y","type":"quantitative","scale":{"type":"log","domain":[5e-9,5e-3],"nice":false},"axis":{"orient":"right","values":[6e-9,7e-9,8e-9,9e-9,2e-8,3e-8,4e-8,5e-8,6e-8,7e-8,8e-8,9e-8,2e-7,3e-7,4e-7,5e-7,6e-7,7e-7,8e-7,9e-7,2e-6,3e-6,4e-6,5e-6,6e-6,7e-6,8e-6,9e-6,2e-5,3e-5,4e-5,5e-5,6e-5,7e-5,8e-5,9e-5,2e-4,3e-4,4e-4,5e-4,6e-4,7e-4,8e-4,9e-4,2e-3,3e-3,4e-3],"tickSize":-5,"labels":false,"title":null}},"text":{"field":"t"}}}
]}
]
}
